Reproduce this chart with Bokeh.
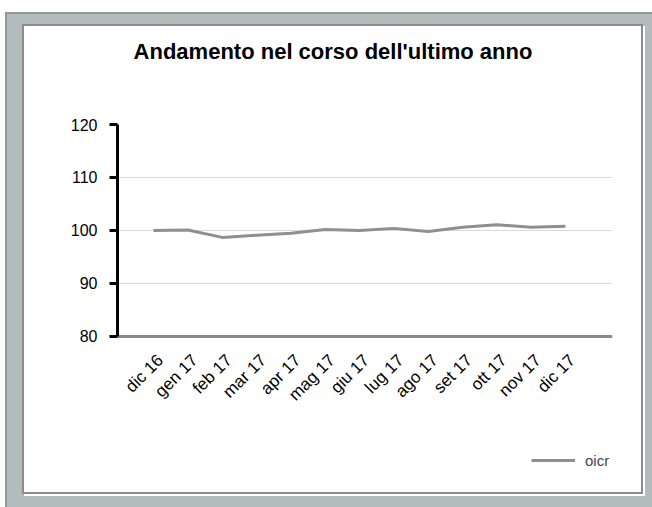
from bokeh.plotting import figure
from bokeh.models import Column, Legend, LegendItem, FixedTicker, Title
from bokeh.embed import file_html
from bokeh.resources import INLINE
import math

months = ["dic 16", "gen 17", "feb 17", "mar 17", "apr 17", "mag 17", "giu 17",
          "lug 17", "ago 17", "set 17", "ott 17", "nov 17", "dic 17"]
oicr = [100.0, 100.1, 98.7, 99.1, 99.5, 100.2, 100.0, 100.4, 99.8, 100.6, 101.1, 100.6, 100.8]
y_ticks = [80, 90, 100, 110, 120]
title_text = "Andamento nel corso dell'ultimo anno"
series_name = "oicr"

xs = list(range(len(months)))
label_pos = [i + 0.2 for i in xs]

# frame spans from the top gridline down to the legend row; the value axis covers 80-120
p = figure(width=617, height=466, output_backend="svg", toolbar_location=None,
           x_range=(-1.05, 13.37), y_range=(53.77, 120),
           min_border_left=93, min_border_right=29, min_border_top=98, min_border_bottom=17)
p.border_fill_color = "white"
p.background_fill_color = None
p.outline_line_color = None

p.title.text = title_text
p.title.align = "center"
p.title.standoff = 0
p.title.padding = (0, 64, 0, 0)
p.title.text_font = "Liberation Sans"
p.title.text_font_size = "22px"
p.title.text_font_style = "bold"
p.title.text_color = "black"

# empty spacer between the title and the plot area
spacer = Title(text=" ", text_font_size="2px", standoff=57)
p.add_layout(spacer, "above")

r = p.line(xs, oicr, line_color="#8f8f8f", line_width=3)

p.xaxis.fixed_location = 80
p.xaxis.ticker = FixedTicker(ticks=label_pos)
p.xaxis.major_label_overrides = {pos: m for pos, m in zip(label_pos, months)}
p.xaxis.major_label_orientation = math.pi / 4
p.xaxis.major_tick_line_color = None
p.xaxis.minor_tick_line_color = None
p.xaxis.axis_line_color = "#8a8a8a"
p.xaxis.axis_line_width = 3
p.xaxis.major_label_text_font = "Liberation Sans"
p.xaxis.major_label_text_font_size = "17px"
p.xaxis.major_label_text_color = "black"
p.xaxis.major_label_standoff = 15

p.yaxis.ticker = FixedTicker(ticks=y_ticks)
p.yaxis.bounds = (80, 120)
p.yaxis.axis_line_color = "black"
p.yaxis.axis_line_width = 3
p.yaxis.major_tick_line_color = "black"
p.yaxis.major_tick_line_width = 3
p.yaxis.major_tick_out = 8
p.yaxis.major_tick_in = 0
p.yaxis.minor_tick_line_color = None
p.yaxis.major_label_text_font = "Liberation Sans"
p.yaxis.major_label_text_font_size = "16px"
p.yaxis.major_label_text_color = "black"
p.yaxis.major_label_standoff = 12

p.xgrid.grid_line_color = None
p.ygrid.grid_line_color = "#d9d9d9"
p.ygrid.grid_line_width = 1

legend = Legend(items=[LegendItem(label=series_name, renderers=[r])],
                location=(414, 5), border_line_color=None, background_fill_alpha=0,
                padding=0, margin=0, orientation="horizontal",
                label_text_font="Liberation Sans", label_text_font_size="15px",
                glyph_width=44, label_standoff=10)
p.add_layout(legend)

inner = Column(children=[p], styles={"background-color": "white",
                                     "border": "2px solid #8c8c8c",
                                     "box-shadow": "2px 2px 0 white"})
outer = Column(children=[inner], margin=(12, 0, 0, 5),
               styles={"background-color": "#b3bcbc", "padding": "10px 9px 13px 15px",
                       "border-top": "2px solid #8f9999", "border-left": "2px solid #8f9999"})

open("out.html", "w").write(file_html(outer, INLINE))
